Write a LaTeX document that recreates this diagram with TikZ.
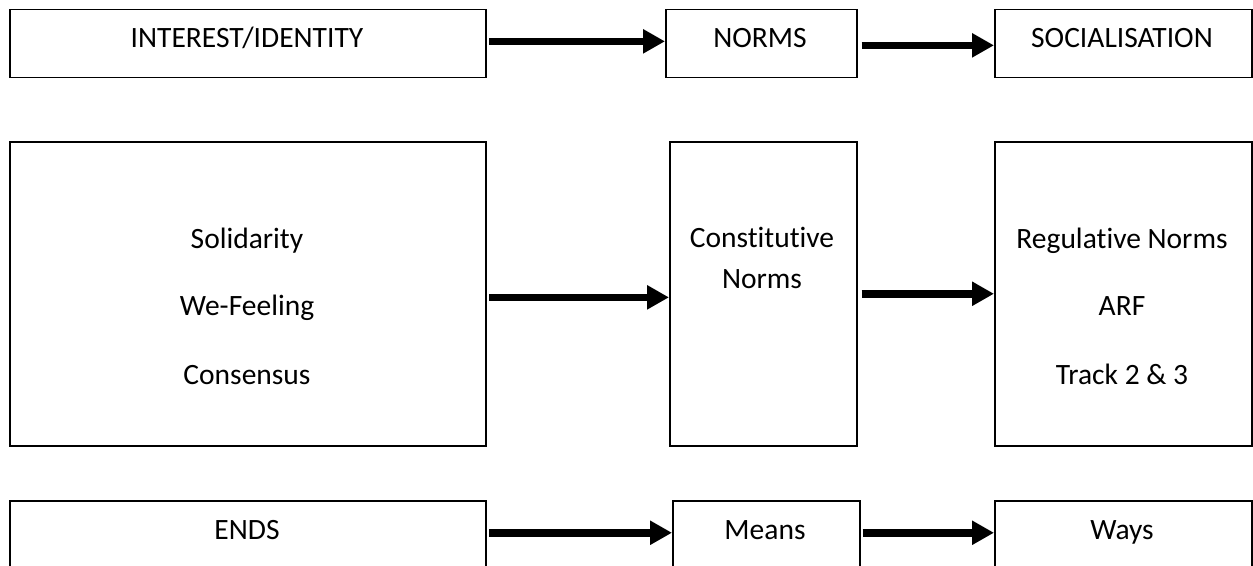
\documentclass[tikz,border=0pt]{standalone}
\usepackage{fontspec}
\setmainfont{Carlito}[Ligatures=NoCommon]
\usetikzlibrary{arrows.meta}
\begin{document}
\begin{tikzpicture}[x=1pt,y=-1pt,
  box/.style={draw=black,line width=1.5pt,rectangle,inner sep=0pt,anchor=north west},
  lbl/.style={font=\fontsize{29.5}{35}\selectfont,inner sep=0pt,anchor=base},
  flow/.style={line width=7.5pt,-{Triangle[length=22pt,width=23pt]}}]
\useasboundingbox (0,0) rectangle (1253,565);
% row 1
\node[box,minimum width=476pt,minimum height=68pt] (a1) at (9,8.6) {};
\node[box,minimum width=191pt,minimum height=68pt] (b1) at (665,8.6) {};
\node[box,minimum width=257pt,minimum height=68pt] (c1) at (994,8.6) {};
\node[lbl] (ta1) at (247,47.5) {INTEREST/IDENTITY};
\node[lbl] (tb1) at (760,47.5) {NORMS};
\node[lbl] (tc1) at (1122,47.5) {SOCIALISATION};
% row 2
\node[box,minimum width=476pt,minimum height=304pt] (a2) at (9,141) {};
\node[box,minimum width=187pt,minimum height=304pt] (b2) at (669,141) {};
\node[box,minimum width=257pt,minimum height=304pt] (c2) at (994,141) {};
\node[lbl] (ta2a) at (247,248) {Solidarity};
\node[lbl] (ta2b) at (247,315) {We-Feeling};
\node[lbl] (ta2c) at (247,384) {Consensus};
\node[lbl] (tb2a) at (762,247) {Constitutive};
\node[lbl] (tb2b) at (762,288) {Norms};
\node[lbl] (tc2a) at (1122,248) {Regulative Norms};
\node[lbl] (tc2b) at (1122,315) {ARF};
\node[lbl] (tc2c) at (1122,384) {Track 2 \& 3};
% row 3
\node[box,minimum width=476pt,minimum height=68pt] (a3) at (9,500) {};
\node[box,minimum width=187pt,minimum height=68pt] (b3) at (672,500) {};
\node[box,minimum width=257pt,minimum height=68pt] (c3) at (994,500) {};
\node[lbl] (ta3) at (247,539.5) {ENDS};
\node[lbl] (tb3) at (765,539.5) {Means};
\node[lbl] (tc3) at (1122,539.5) {Ways};
% arrows
\draw[flow] ([xshift=2.5pt,yshift=2pt]a1.east) -- ([yshift=2pt]b1.west);
\draw[flow] ([xshift=4pt,yshift=-2pt]b1.east) -- ([yshift=-2pt]c1.west);
\draw[flow] ([xshift=2.5pt,yshift=-3.6pt]a2.east) -- ([yshift=-3.6pt]b2.west);
\draw[flow] ([xshift=4pt]b2.east) -- (c2.west);
\draw[flow] ([xshift=2.5pt,yshift=2pt]a3.east) -- ([yshift=2pt]b3.west);
\draw[flow] ([xshift=2pt,yshift=2pt]b3.east) -- ([yshift=2pt]c3.west);
\end{tikzpicture}
\end{document}
